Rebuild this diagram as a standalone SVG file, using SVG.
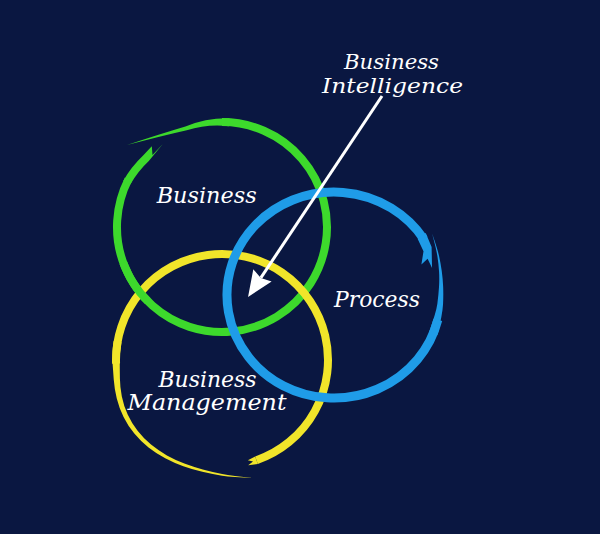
<svg xmlns="http://www.w3.org/2000/svg" width="600" height="534" viewBox="0 0 600 534">
<style>
.lbl{font-family:"DejaVu Serif","Liberation Serif",serif;font-style:italic;fill:#ffffff;text-anchor:middle}
.g{fill:none;stroke:#3dd92c;stroke-width:8}
.gf{fill:#3dd92c}
.y{fill:none;stroke:#f1e52a;stroke-width:8}
.yf{fill:#f1e52a}
.b{fill:none;stroke:#1f9ce8;stroke-width:9}
.bf{fill:#1f9ce8}
.arrow{stroke:#ffffff;stroke-width:3;fill:none}
</style>
<defs>
<marker id="ah" markerUnits="userSpaceOnUse" viewBox="0 0 26 24" refX="3" refY="12" markerWidth="26" markerHeight="24" orient="auto">
<path d="M0,1 L26,12 L0,23 L3,12 Z" fill="#ffffff"/>
</marker>
</defs>
<rect width="600" height="534" fill="#0a1741"/>
<g id="business">
<path class="gf" d="M127,145 Q160,134 185.4,126.5 A108,108 0 0 1 229.6,118.3 L229.0,126.2 A102,102 0 0 0 186.8,130.2 Q161,136 127,145 Z"/>
<path class="g" d="M222,122 A105,105 0 1 1 128.45,179.3"/>
<path class="gf" d="M123.2,180.9 A108,108 0 0 1 142.86,155.74 L151.8,146.2 L152.5,155.1 L162.8,144.0 L148.8,161.09 A100,100 0 0 0 130.5,184.3 Z"/>
<text class="lbl" x="206.7" y="202.5" font-size="22" textLength="100" lengthAdjust="spacingAndGlyphs">Business</text>
</g>
<g id="management">
<path class="yf" d="M253.6,477.8 Q232.27,477.30 222.14,475.73 Q212.01,474.16 202.33,471.85 Q192.65,469.53 183.32,466.25 Q173.99,462.96 165.22,458.30 Q156.44,453.63 148.56,447.48 Q140.68,441.32 134.34,433.57 Q128.00,425.82 123.57,416.90 Q119.13,407.97 116.77,398.40 Q114.40,388.83 113.71,379.19 L113.02,369.54 A110,110 0 0 1 113.67,340.90 L121.55,342.29 A102,102 0 0 0 119.79,368.95 L119.90,378.14 Q120.00,387.33 121.84,396.59 Q123.67,405.85 127.68,414.55 Q131.68,423.24 137.60,430.87 Q143.51,438.49 151.01,444.59 Q158.50,450.69 166.92,455.38 Q175.34,460.06 184.36,463.45 Q193.38,466.83 202.79,469.40 Q212.20,471.97 222.17,473.89 Q232.14,475.81 253.6,477.8 Z"/>
<path class="y" d="M116.06,363.7 A106,106 0 1 1 256.5,460.2"/>
<path class="yf" d="M257.8,464.0 L248.2,465.3 L253.0,461.4 L247.9,460.2 L255.2,456.4 Z"/>
<text class="lbl" x="207.5" y="387" font-size="22" textLength="98" lengthAdjust="spacingAndGlyphs">Business</text>
<text class="lbl" x="207" y="410" font-size="22" textLength="159" lengthAdjust="spacingAndGlyphs">Management</text>
</g>
<g id="business-overlap">
<path class="g" d="M147.8,301.2 A105,105 0 0 1 123.3,262.9"/>
</g>
<g id="process">
<path class="bf" d="M432.1,233.5 Q437.4,248.5 439.05,256.0 Q440.7,263.5 441.75,270.95 Q442.8,278.4 443.15,286.7 Q443.5,295 443.05,304.2 Q442.6,313.4 437.38,335.27 L429.04,331.9 Q436.2,312.3 437.35,303.65 Q438.5,295 439.0,286.95 Q439.5,278.9 439.05,271.55 Q438.6,264.2 437.45,256.6 Q436.3,249.0 432.1,233.5 Z"/>
<path class="b" d="M437.82,319.92 A107,103 0 1 1 423.7,238.9"/>
<path class="bf" d="M425.75,233.05 L431.6,247.1 L432.05,268.0 L427.6,258.7 L421.4,264.6 L423.5,251.2 L417.6,238.8 Z"/>
<text class="lbl" x="377" y="306.5" font-size="22" textLength="86" lengthAdjust="spacingAndGlyphs">Process</text>
</g>
<g id="business-intelligence">
<text class="lbl" x="391.5" y="68.5" font-size="20" textLength="95" lengthAdjust="spacingAndGlyphs">Business</text>
<text class="lbl" x="392.5" y="93" font-size="20" textLength="141" lengthAdjust="spacingAndGlyphs">Intelligence</text>
</g>
<g id="connectors">
<line class="arrow" x1="382" y1="96" x2="260.8" y2="277.9" marker-end="url(#ah)"/>
</g>
</svg>
